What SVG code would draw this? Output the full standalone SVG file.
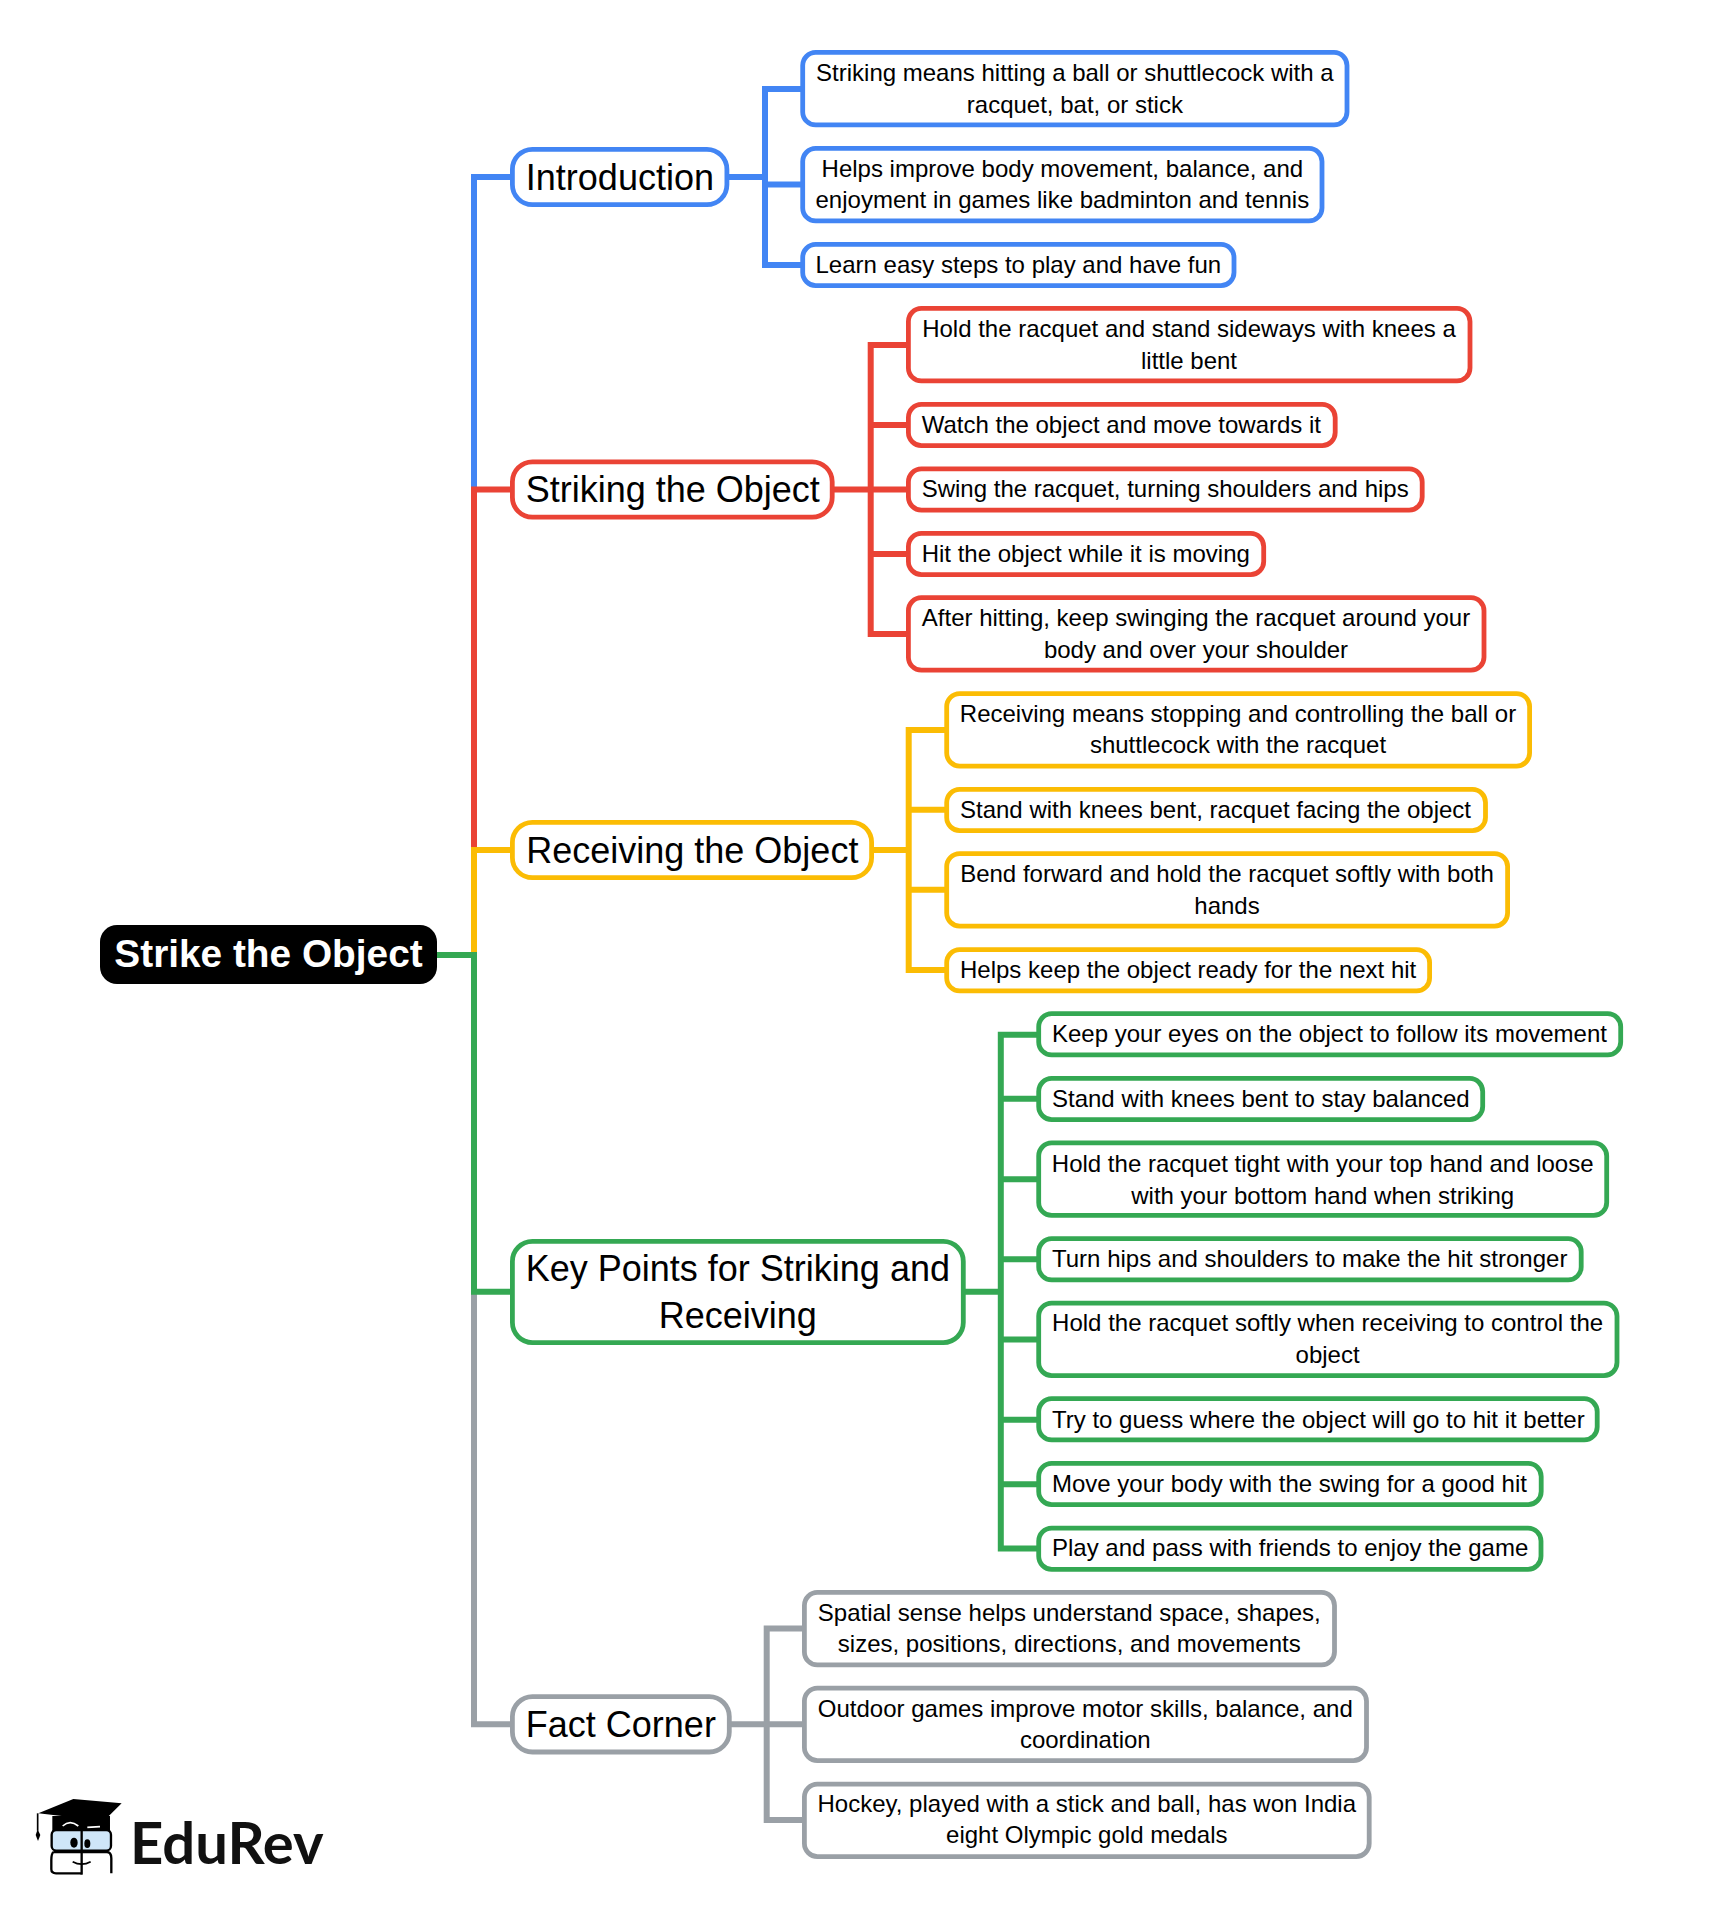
<svg xmlns="http://www.w3.org/2000/svg" width="1723" height="1909" viewBox="0 0 1723 1909">
<style>
text{font-family:"Liberation Sans",Arial,sans-serif;fill:#000}
.leaf text{font-size:24px}
.br text{font-size:36px}
.leaf rect,.br rect{fill:#fff;stroke-width:4.800}
.leaf rect{rx:13px}
.br rect{rx:20px}
.c path{fill:none;stroke-width:6;stroke-linejoin:miter}
.blue rect{stroke:#4285f4}.red rect{stroke:#ea4335}.yel rect{stroke:#fbbc04}.grn rect{stroke:#34a853}.gry rect{stroke:#9aa0a6}
.c .blue{stroke:#4285f4}.c .red{stroke:#ea4335}.c .yel{stroke:#fbbc04}.c .grn{stroke:#34a853}.c .gry{stroke:#9aa0a6}
</style>
<rect width="1723" height="1909" fill="#fff"/>
<g id="connectors" class="c">
<path class="blue" d="M437 955H474V177H512M727 177H765M803 89H765V265H803M765 184.400H803"/>
<path class="red" d="M437 955H474V489.500H512M833 489.500H870.700M908 345H870.700V634H908M870.700 425H908M870.700 489.500H908M870.700 554H908"/>
<path class="yel" d="M437 955H474V850H512M872 850H908.700M947 730H908.700V970H947M908.700 809.800H947M908.700 889.800H947"/>
<path class="gry" d="M437 955H474V1724.300H512M730 1724.300H766.700M804 1628.500H766.700V1820H804M766.700 1724.300H804"/>
<path class="grn" d="M437 955H474V1291.700H512M964 1291.700H1000.800M1039 1034.700H1000.800V1548.500H1039M1000.800 1098.800H1039M1000.800 1179.300H1039M1000.800 1259.300H1039M1000.800 1339.400H1039M1000.800 1419.800H1039M1000.800 1484.200H1039"/>
</g>
<g id="root"><rect x="100" y="925" width="337" height="59" rx="17" fill="#000"/><text x="268.500" y="967" text-anchor="middle" font-size="38.800" font-weight="700" style="fill:#fff">Strike the Object</text></g>

<g id="b1" class="br blue"><rect x="512.400" y="149.300" width="214.500" height="55.400"/><text x="619.900" y="189.600" text-anchor="middle">Introduction</text></g>
<g id="b2" class="br red"><rect x="512.400" y="461.800" width="319.800" height="55.400"/><text x="672.800" y="502.200" text-anchor="middle">Striking the Object</text></g>
<g id="b3" class="br yel"><rect x="512.400" y="822.300" width="359.200" height="55.400"/><text x="692.300" y="862.600" text-anchor="middle">Receiving the Object</text></g>
<g id="b4" class="br grn"><rect x="512.400" y="1241.400" width="450.900" height="101.200"/><text x="737.850" y="1280.500" text-anchor="middle">Key Points for Striking and</text><text x="737.850" y="1327.500" text-anchor="middle">Receiving</text></g>
<g id="b5" class="br gry"><rect x="512.400" y="1696.600" width="216.900" height="55.400"/><text x="620.850" y="1736.800" text-anchor="middle">Fact Corner</text></g>

<g id="l1" class="leaf blue"><rect x="802.700" y="52.400" width="544.300" height="72.500"/><text x="1074.850" y="80.700" text-anchor="middle">Striking means hitting a ball or shuttlecock with a</text><text x="1074.850" y="112.700" text-anchor="middle">racquet, bat, or stick</text></g>
<g id="l2" class="leaf blue"><rect x="802.700" y="148.400" width="519.300" height="72.500"/><text x="1062.350" y="176.800" text-anchor="middle">Helps improve body movement, balance, and</text><text x="1062.350" y="208.400" text-anchor="middle">enjoyment in games like badminton and tennis</text></g>
<g id="l3" class="leaf blue"><rect x="802.700" y="244.400" width="431.300" height="41.200"/><text x="815.500" y="272.700">Learn easy steps to play and have fun</text></g>

<g id="l4" class="leaf red"><rect x="908.400" y="308.400" width="561.600" height="72.500"/><text x="1189" y="336.500" text-anchor="middle">Hold the racquet and stand sideways with knees a</text><text x="1189" y="368.500" text-anchor="middle">little bent</text></g>
<g id="l5" class="leaf red"><rect x="908.400" y="404.400" width="426.800" height="41.200"/><text x="921.700" y="432.700">Watch the object and move towards it</text></g>
<g id="l6" class="leaf red"><rect x="908.400" y="468.900" width="513.800" height="41.200"/><text x="921.700" y="497.200">Swing the racquet, turning shoulders and hips</text></g>
<g id="l7" class="leaf red"><rect x="908.400" y="533.400" width="355.300" height="41.200"/><text x="921.700" y="561.700">Hit the object while it is moving</text></g>
<g id="l8" class="leaf red"><rect x="908.400" y="597.700" width="575.600" height="72.500"/><text x="1196" y="625.700" text-anchor="middle">After hitting, keep swinging the racquet around your</text><text x="1196" y="657.700" text-anchor="middle">body and over your shoulder</text></g>

<g id="l9" class="leaf yel"><rect x="946.700" y="693.600" width="582.900" height="72.500"/><text x="1238" y="721.700" text-anchor="middle">Receiving means stopping and controlling the ball or</text><text x="1238" y="753.300" text-anchor="middle">shuttlecock with the racquet</text></g>
<g id="l10" class="leaf yel"><rect x="946.700" y="789.400" width="538.800" height="41.200"/><text x="960" y="817.700">Stand with knees bent, racquet facing the object</text></g>
<g id="l11" class="leaf yel"><rect x="946.700" y="853.600" width="560.900" height="72.500"/><text x="1227" y="881.500" text-anchor="middle">Bend forward and hold the racquet softly with both</text><text x="1227" y="913.500" text-anchor="middle">hands</text></g>
<g id="l12" class="leaf yel"><rect x="946.700" y="949.700" width="482.900" height="41.200"/><text x="960" y="978">Helps keep the object ready for the next hit</text></g>

<g id="l13" class="leaf grn"><rect x="1038.700" y="1013.700" width="582" height="41.200"/><text x="1052" y="1042.200">Keep your eyes on the object to follow its movement</text></g>
<g id="l14" class="leaf grn"><rect x="1038.700" y="1078.400" width="444" height="41.200"/><text x="1052" y="1106.600">Stand with knees bent to stay balanced</text></g>
<g id="l15" class="leaf grn"><rect x="1038.700" y="1142.900" width="568" height="72.500"/><text x="1322.700" y="1171.800" text-anchor="middle">Hold the racquet tight with your top hand and loose</text><text x="1322.700" y="1203.800" text-anchor="middle">with your bottom hand when striking</text></g>
<g id="l16" class="leaf grn"><rect x="1038.700" y="1238.700" width="542.500" height="41.200"/><text x="1052" y="1267">Turn hips and shoulders to make the hit stronger</text></g>
<g id="l17" class="leaf grn"><rect x="1038.700" y="1303.100" width="578.300" height="72.500"/><text x="1327.600" y="1331.100" text-anchor="middle">Hold the racquet softly when receiving to control the</text><text x="1327.600" y="1362.800" text-anchor="middle">object</text></g>
<g id="l18" class="leaf grn"><rect x="1038.700" y="1398.700" width="558.500" height="41.200"/><text x="1052" y="1427.500">Try to guess where the object will go to hit it better</text></g>
<g id="l19" class="leaf grn"><rect x="1038.700" y="1463.400" width="502.500" height="41.200"/><text x="1052" y="1491.900">Move your body with the swing for a good hit</text></g>
<g id="l20" class="leaf grn"><rect x="1038.700" y="1528.100" width="502.300" height="41.200"/><text x="1052" y="1556.200">Play and pass with friends to enjoy the game</text></g>

<g id="l21" class="leaf gry"><rect x="804.400" y="1592.400" width="530.100" height="72.500"/><text x="1069.300" y="1620.900" text-anchor="middle">Spatial sense helps understand space, shapes,</text><text x="1069.300" y="1652.200" text-anchor="middle">sizes, positions, directions, and movements</text></g>
<g id="l22" class="leaf gry"><rect x="804.400" y="1688.100" width="562.100" height="72.500"/><text x="1085.300" y="1716.800" text-anchor="middle">Outdoor games improve motor skills, balance, and</text><text x="1085.300" y="1748" text-anchor="middle">coordination</text></g>
<g id="l23" class="leaf gry"><rect x="804.400" y="1784.100" width="564.800" height="72.500"/><text x="1086.800" y="1811.700" text-anchor="middle">Hockey, played with a stick and ball, has won India</text><text x="1086.800" y="1843.400" text-anchor="middle">eight Olympic gold medals</text></g>

<g id="logo">
<g transform="translate(0,1750) scale(.3333)">
<path d="M157 198H330V245H157Z" fill="#000"/>
<path d="M115 190L220 147L365 160L300 224L240 205L185 198Z" fill="#000"/>
<path d="M113 190V242" stroke="#000" stroke-width="5" fill="none"/>
<path d="M113 238L121 255L114 273L107 255Z" fill="#000"/>
<path d="M188 228Q210 208 235 228M262 232L300 230" stroke="#fff" stroke-width="5" fill="none"/>
<rect x="155" y="240" width="178" height="62" rx="14" fill="#cfe6f8" stroke="#000" stroke-width="7"/>
<path d="M160 306H320Q334 306 334 325V370M160 306Q154 312 154 330V358Q154 370 168 370H245" fill="#fff" stroke="#000" stroke-width="7"/>
<path d="M245 238V374" stroke="#000" stroke-width="7" fill="none"/>
<ellipse cx="222" cy="278" rx="11" ry="15" fill="#000"/>
<ellipse cx="262" cy="281" rx="9" ry="13" fill="#000"/>
<path d="M218 335Q245 350 272 335" stroke="#000" stroke-width="5" fill="none"/>
</g>
<text x="130" y="1864" font-size="58" font-weight="700" style="font-family:Lato,'Open Sans',sans-serif;fill:#111">EduRev</text>
</g>
</svg>
